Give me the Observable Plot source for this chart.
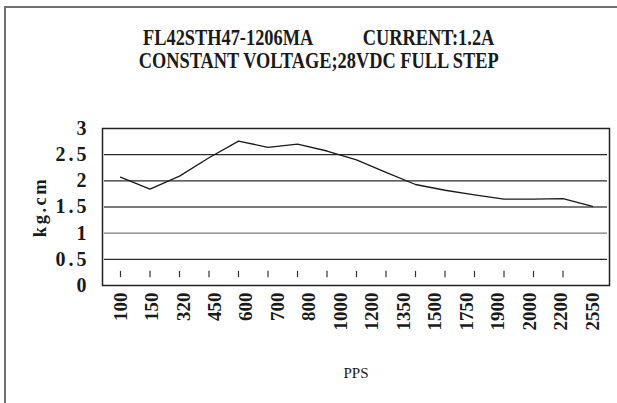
<!DOCTYPE html>
<html><head><meta charset="utf-8">
<script src="https://cdn.jsdelivr.net/npm/d3@7"></script>
<script src="https://cdn.jsdelivr.net/npm/@observablehq/plot@0.6"></script>
<style>
body{margin:0;background:#fff;}
#wrap{position:relative;width:617px;height:403px;overflow:hidden;background:#fff;}
#box{position:absolute;left:4px;top:6px;width:700px;height:500px;border-left:2px solid #707070;border-top:2px solid #707070;}
#title{position:absolute;font-family:"Liberation Serif",serif;font-weight:bold;font-size:23px;white-space:pre;text-align:center;line-height:23px;color:#1a1a1a;transform-origin:50% 0;}
#chart{position:absolute;left:0;top:0;}
#chart g[aria-label="y-axis tick label"]{letter-spacing:3px;}
#chart .ylab{letter-spacing:2.5px;}
</style></head>
<body><div id="wrap"><div id="box"></div><div id="chart"></div><div id="title"></div></div>
<script>
const title1 = "FL42STH47-1206MA           CURRENT:1.2A";
const title2 = "CONSTANT VOLTAGE;28VDC FULL STEP";
const yTitle = "kg.cm";
const xTitle = "PPS";
const ppsLabels = ["100","150","320","450","600","700","800","1000","1200","1350","1500","1750","1900","2000","2200","2550"];
const torque = [2.07,1.84,2.09,2.44,2.76,2.64,2.70,2.57,2.40,2.16,1.93,1.82,1.73,1.65,1.65,1.66,1.51];
const yTicks = [0,0.5,1,1.5,2,2.5,3];
const gridValues = [0.5,1,1.5,2,2.5];

const pts = torque.map((v,i)=>({i, v}));
const nSeg = torque.length - 1;
const labelPos = ppsLabels.map((_,k)=> k*nSeg/(ppsLabels.length-1));

const plot = Plot.plot({
  width:617, height:403,
  marginLeft:102, marginRight:8, marginTop:128, marginBottom:118,
  style:{background:"transparent", fontFamily:"'Liberation Serif', serif", color:"#1a1a1a", overflow:"visible"},
  x:{type:"linear", domain:[0,nSeg], range:[120,592]},
  y:{domain:[0,3]},
  marks:[
    Plot.ruleY(gridValues,{stroke:d=>(d===1.5||d===1)?"#7a7a7a":"#2a2a2a", strokeWidth:d=>d===1.5?2:1.3, insetLeft:2, insetRight:2}),
    Plot.ruleX(d3.range(ppsLabels.length),{y1:0.15, y2:0.27, stroke:"#333", strokeWidth:1.2}),
    Plot.line(pts,{x:"i", y:"v", stroke:"#1a1a1a", strokeWidth:1.3}),
    Plot.frame({stroke:"#222", strokeWidth:1.5}),
    Plot.axisY({ticks:yTicks, tickSize:0, tickPadding:13, tickFormat:d=>String(d), fontSize:20, fontWeight:"bold", label:null}),
    Plot.axisX({ticks:labelPos, tickSize:0, tickPadding:7, tickRotate:-90, tickFormat:d=>ppsLabels[Math.round(d*(ppsLabels.length-1)/nSeg)], fontSize:19, fontWeight:"bold", label:null}),
    Plot.text([yTitle],{frameAnchor:"left", textAnchor:"middle", lineAnchor:"middle", rotate:-90, dx:-62.5, fontSize:18.5, fontWeight:"bold", className:"ylab"}),
    Plot.text([xTitle],{frameAnchor:"bottom", textAnchor:"middle", lineAnchor:"middle", dy:88, fontSize:15})
  ]
});
document.getElementById("chart").appendChild(plot);

// two-line title, one block, squeezed horizontally to the reference's width
const t = document.getElementById("title");
t.textContent = title1 + "\n" + title2;
const fs = parseFloat(getComputedStyle(t).fontSize);
const w = t.getBoundingClientRect().width;
const target = 360, centre = 318.5, baseline1 = 45;
t.style.left = (centre - w/2) + "px";
t.style.top = (baseline1 - (23 - 1.107*fs)/2 - 0.891*fs) + "px";
t.style.transform = `scaleX(${target/w})`;
</script>
</body></html>
